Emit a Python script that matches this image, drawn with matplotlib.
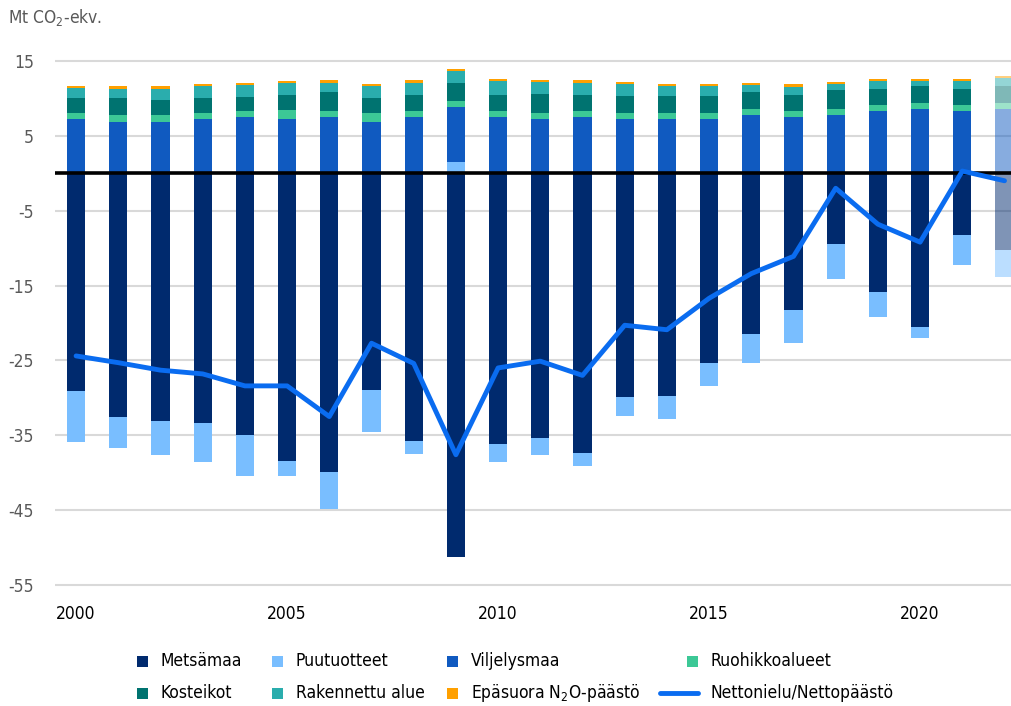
import matplotlib
matplotlib.use("Agg")
import matplotlib.pyplot as plt
import numpy as np
from matplotlib.patches import Rectangle
from matplotlib.lines import Line2D
from matplotlib import font_manager

# ---------------- data ----------------
years = list(range(2000, 2023))
metsamaa = [-29.1, -32.6, -33.1, -33.4, -35.0, -38.5, -39.9, -28.9, -35.8, -51.2, -36.1,
            -35.3, -37.4, -29.9, -29.7, -25.3, -21.5, -18.3, -9.4, -15.9, -20.5, -8.3, -10.3]
puutuotteet = [-6.8, -4.1, -4.6, -5.2, -5.4, -2.0, -4.9, -5.7, -1.7, 1.5, -2.5,
               -2.3, -1.7, -2.5, -3.1, -3.1, -3.9, -4.4, -4.7, -3.3, -1.5, -3.9, -3.5]
viljelysmaa = [7.3, 6.9, 6.9, 7.3, 7.5, 7.3, 7.5, 6.9, 7.5, 7.3, 7.5,
               7.3, 7.5, 7.3, 7.3, 7.3, 7.8, 7.5, 7.8, 8.3, 8.6, 8.3, 8.6]
ruohikkoalueet = [0.8, 0.9, 0.9, 0.8, 0.8, 1.1, 0.8, 1.2, 0.8, 0.8, 0.8,
                  0.8, 0.8, 0.8, 0.8, 0.8, 0.8, 0.8, 0.8, 0.8, 0.8, 0.8, 0.8]
kosteikot = [2.0, 2.2, 2.0, 2.0, 1.9, 2.0, 2.5, 2.0, 2.2, 2.5, 2.2,
             2.5, 2.2, 2.2, 2.2, 2.2, 2.2, 2.1, 2.5, 2.2, 2.2, 2.2, 2.2]
rakennettu_alue = [1.3, 1.3, 1.5, 1.5, 1.6, 1.6, 1.3, 1.5, 1.6, 1.5, 1.8,
                   1.6, 1.6, 1.6, 1.3, 1.3, 1.0, 1.1, 0.8, 1.0, 0.7, 1.0, 1.1]
epasuora_n2o = [0.2, 0.3, 0.3, 0.3, 0.3, 0.3, 0.3, 0.3, 0.3, 0.3, 0.3,
                0.3, 0.3, 0.3, 0.3, 0.3, 0.3, 0.4, 0.3, 0.3, 0.3, 0.3, 0.3]
nettonielu = [-24.4, -25.3, -26.3, -26.8, -28.4, -28.4, -32.5, -22.7, -25.4, -37.6, -26.0,
              -25.1, -27.0, -20.3, -20.9, -16.7, -13.4, -11.1, -2.0, -6.8, -9.2, 0.3, -1.0]

labels = ["Metsämaa", "Puutuotteet", "Viljelysmaa", "Ruohikkoalueet",
          "Kosteikot", "Rakennettu alue", "Epäsuora N$_2$O-päästö", "Nettonielu/Nettopäästö"]
colors = ["#002A6E", "#79BEFF", "#105AC0", "#3CC896",
          "#007370", "#2AADAD", "#FFA000", "#0A6CF0"]
xtick_years = [2000, 2005, 2010, 2015, 2020]
yticks = [-55, -45, -35, -25, -15, -5, 5, 15]

# ---------------- fonts (prefer a condensed face) ----------------
flist = font_manager.fontManager.ttflist
names = {f.name for f in flist}
STRETCH = "normal"
if "Liberation Sans Narrow" in names:
    FONT, FS = "Liberation Sans Narrow", 14.5
elif any(f.name == "DejaVu Sans" and str(f.stretch) in ("condensed", "semi-condensed", "500", "400") and
         "Condensed" in f.fname for f in flist):
    FONT, FS, STRETCH = "DejaVu Sans", 12.5, "condensed"
elif "Open Sans Condensed" in names:
    FONT, FS = "Open Sans Condensed", 14
else:
    FONT, FS = "Liberation Sans", 12.5
plt.rcParams["font.family"] = [FONT, "DejaVu Sans"]
plt.rcParams["font.stretch"] = STRETCH
plt.rcParams["mathtext.fontset"] = "custom"
plt.rcParams["mathtext.rm"] = FONT
plt.rcParams["mathtext.it"] = FONT
plt.rcParams["mathtext.default"] = "regular"

W, H = 1012, 706
fig = plt.figure(figsize=(W / 100, H / 100), dpi=100)
ppu = 7.5       # pixels per unit
step = 42.2     # pixels per year
y0, y1 = -55.3, 15.3
top_px = 61 - (y1 - 15) * ppu
bot_px = 585 + (-55 - y0) * ppu
ax = fig.add_axes([55 / W, 1 - bot_px / H, 23 * step / W, (bot_px - top_px) / H])

x = np.arange(len(years))
series = [metsamaa, puutuotteet, viljelysmaa, ruohikkoalueet,
          kosteikot, rakennettu_alue, epasuora_n2o]
pos_b = np.zeros(len(years))
neg_b = np.zeros(len(years))
for vals, col in zip(series, colors[:7]):
    v = np.array(vals, dtype=float)
    bottom = np.where(v >= 0, pos_b, neg_b)
    bars = ax.bar(x, v, width=0.43, bottom=bottom, color=col, linewidth=0, zorder=2)
    bars.patches[-1].set_alpha(0.5)
    pos_b = pos_b + np.where(v >= 0, v, 0)
    neg_b = neg_b + np.where(v < 0, v, 0)

ax.axhline(0, color="black", lw=2.6, zorder=3)
ax.plot(x, nettonielu, color=colors[7], lw=3.5, solid_capstyle="round",
        solid_joinstyle="round", zorder=4)

ax.set_xlim(-0.5, 22.5)
ax.set_ylim(y0, y1)
ax.set_yticks(yticks)
ax.set_yticklabels([str(t) for t in yticks])
ax.set_xticks([years.index(yy) for yy in xtick_years])
ax.set_xticklabels([str(yy) for yy in xtick_years])
ax.yaxis.grid(True, color="#D9D9D9", lw=1.5)
ax.set_axisbelow(True)
for s in ax.spines.values():
    s.set_visible(False)
ax.tick_params(axis="y", length=0, pad=15, labelsize=FS, labelcolor="#595959")
ax.tick_params(axis="x", length=0, pad=13, labelsize=FS, labelcolor="black")

fig.text(8 / W, 1 - 18 / H, "Mt CO$_2$-ekv.", ha="left", va="center",
         color="#595959", fontsize=FS)

# ---------------- legend (manual, Excel-like layout) ----------------
sq = 11
rows = [661, 693]
sq_x = [143, 278, 453, 693]
for i, (lab, col) in enumerate(zip(labels, colors)):
    r, c = divmod(i, 4)
    cy = rows[r]
    if i < 7:
        fig.add_artist(Rectangle(((sq_x[c] - sq / 2) / W, 1 - (cy + sq / 2) / H),
                                 sq / W, sq / H, transform=fig.transFigure,
                                 facecolor=col, edgecolor="none"))
    else:
        fig.add_artist(Line2D([660 / W, 698 / W], [1 - cy / H, 1 - cy / H],
                              transform=fig.transFigure, color=col, lw=3.5,
                              solid_capstyle="round"))
    fig.text((sq_x[c] + 18) / W, 1 - cy / H, lab, ha="left", va="center",
             color="black", fontsize=FS)

fig.savefig("out.png", dpi=100)
